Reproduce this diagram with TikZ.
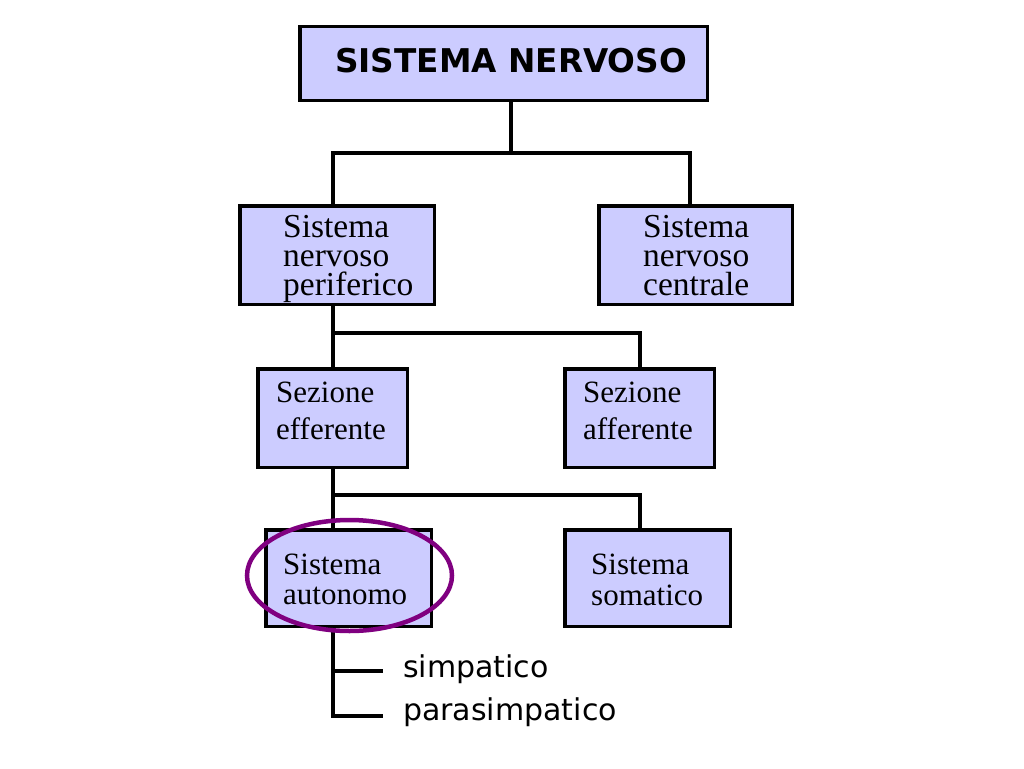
\documentclass[tikz,border=0pt]{standalone}
\usepackage{fontspec}
\setmainfont{Liberation Serif}
\newfontfamily\cartoon{DejaVu Sans}
\definecolor{lavanda}{RGB}{204,204,255}
\definecolor{viola}{RGB}{128,0,128}

\begin{document}
\begin{tikzpicture}[x=1pt,y=-1pt,
  blocco/.style={draw=black,fill=lavanda,line width=3.5pt,inner sep=0pt},
  testo/.style={anchor=base west,inner sep=0pt,align=left},
  ramo/.style={line width=3.2pt}]
  \useasboundingbox[fill=white] (0,0) rectangle (1024,768);
  % caselle
  \node[blocco,minimum width=407.5,minimum height=73.5] (sn)  at (503.5,63.5) {};
  \node[blocco,minimum width=194.5,minimum height=98.5] (snp) at (337,255) {};
  \node[blocco,minimum width=193.5,minimum height=98.5] (snc) at (695.5,255) {};
  \node[blocco,minimum width=149.5,minimum height=98.5] (eff) at (332.5,418) {};
  \node[blocco,minimum width=149.5,minimum height=98.5] (aff) at (639.5,418) {};
  \node[blocco,minimum width=165.5,minimum height=96.5] (aut) at (348.5,578) {};
  \node[blocco,minimum width=165.5,minimum height=96.5] (som) at (647.5,578) {};
  % testi (base = ultima riga)
  \node[testo,font=\cartoon\bfseries\fontsize{32.7}{36}\selectfont] (snt) at (335,72.5) {SISTEMA NERVOSO};
  \node[testo,font=\fontsize{33.5}{29}\selectfont] (snpt) at (283,295) {Sistema\\nervoso\\periferico};
  \node[testo,font=\fontsize{33.5}{29}\selectfont] (snct) at (643,295) {Sistema\\nervoso\\centrale};
  \node[testo,font=\fontsize{31}{37}\selectfont] (efft) at (276,439) {Sezione\\efferente};
  \node[testo,font=\fontsize{31}{37}\selectfont] (afft) at (583,439) {Sezione\\afferente};
  \node[testo,font=\fontsize{31}{29.5}\selectfont] (autt) at (283,604) {Sistema\\autonomo};
  \node[testo,font=\fontsize{31}{31}\selectfont] (somt) at (591,605) {Sistema\\somatico};
  \node[testo,font=\cartoon\fontsize{30}{36}\selectfont] (simp) at (403,677) {simpatico};
  \node[testo,font=\cartoon\fontsize{30}{36}\selectfont] (para) at (403,720) {parasimpatico};
  % giunti
  \coordinate (g1)  at (511,153);
  \coordinate (g1l) at (333,153);
  \coordinate (g1r) at (690,153);
  \coordinate (g2l) at (333,333);
  \coordinate (g2r) at (640,333);
  \coordinate (g3l) at (333,495);
  \coordinate (g3r) at (640,495);
  \coordinate (b1)  at (333,671);
  \coordinate (b2)  at (333,716);
  \coordinate (s1)  at (383,671);
  \coordinate (s2)  at (383,716);
  % rami
  \draw[ramo] (sn.south -| g1) -- (g1);
  \draw[ramo] (snp.north -| g1l) |- (g1r) -- (snc.north -| g1r);
  \draw[ramo] (snp.south -| g2l) -- (g2l) -- (g2r) -- (aff.north -| g2r);
  \draw[ramo] (g2l) -- (eff.north -| g2l);
  \draw[ramo] (eff.south -| g3l) -- (g3l) -- (g3r) -- (som.north -| g3r);
  \draw[ramo] (g3l) -- (aut.north -| g3l);
  \draw[ramo] (aut.south -| b1) -- (b2) -- (s2);
  \draw[ramo] (b1) -- (s1);
  % evidenziazione
  \draw[viola,line width=4.5pt] (349.5,575.5) ellipse [x radius=102.5, y radius=55.5];
\end{tikzpicture}
\end{document}
